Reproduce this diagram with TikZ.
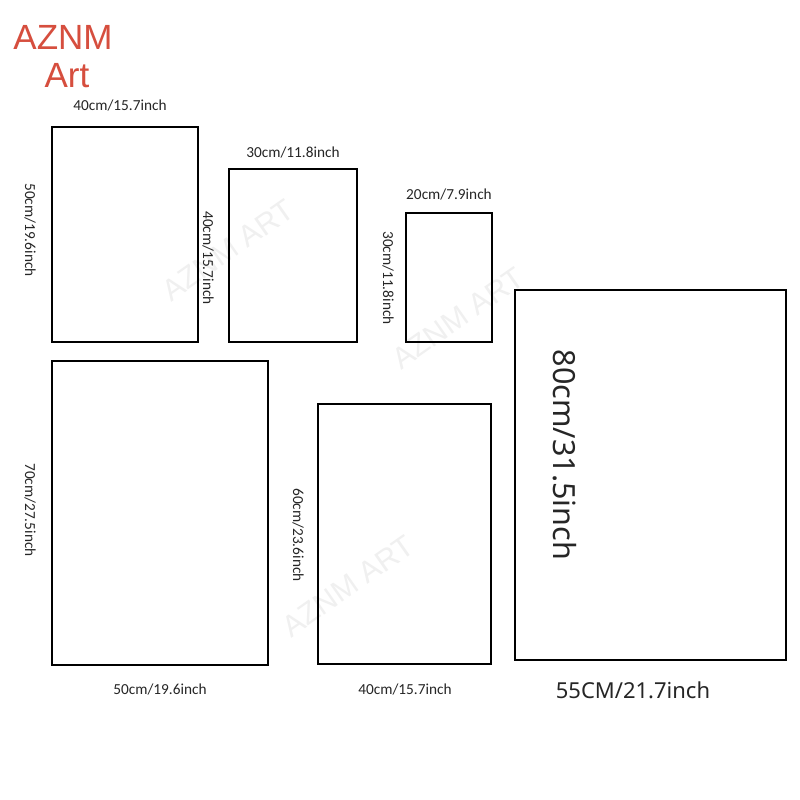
\documentclass[tikz,border=0pt]{standalone}
\usepackage{fontspec}
\setmainfont{Carlito}
\newfontfamily\titlefont{Liberation Sans}
\newfontfamily\bigfont{Noto Sans}
\begin{document}
\begin{tikzpicture}[x=1pt,y=-1pt,
  frame/.style={draw=black,line width=2.6pt},
  lab/.style={font=\fontsize{15.3}{17}\selectfont,inner sep=0pt,text=black!85},
  vlab/.style={lab,rotate=-90},
  wm/.style={font=\fontsize{30}{32}\selectfont\titlefont,text=black!6,rotate=35,inner sep=0pt},
  title/.style={font=\fontsize{35}{38}\selectfont\titlefont,text={rgb,255:red,214;green,78;blue,62},inner sep=0pt}]
\useasboundingbox[fill=white] (0,0) rectangle (800,800);
% watermarks
\node[wm] (w1) at (228,250) {AZNM ART};
\node[wm] (w2) at (458,318) {AZNM ART};
\node[wm] (w3) at (348,586) {AZNM ART};
% title
\node[title] (t1) at (63,37) {AZNM};
\node[title] (t2) at (67,76) {Art};
% frames
\draw[frame] (52,127) rectangle (198,342);
\draw[frame] (229,169) rectangle (357,342);
\draw[frame] (406,213) rectangle (492,342);
\draw[frame] (515,290) rectangle (786,660);
\draw[frame] (52,361) rectangle (268,665);
\draw[frame] (318,404) rectangle (491,664);
% labels
\node[lab] (l1) at (120,106) {40cm/15.7inch};
\node[vlab] (l2) at (30,230) {50cm/19.6inch};
\node[lab] (l3) at (293,153) {30cm/11.8inch};
\node[vlab] (l4) at (208,258) {40cm/15.7inch};
\node[lab] (l5) at (449,195) {20cm/7.9inch};
\node[vlab] (l6) at (388,278) {30cm/11.8inch};
\node[vlab,font=\fontsize{30.5}{32}\selectfont\bigfont] (l7) at (565,455) {80cm/31.5inch};
\node[lab,font=\fontsize{22}{24}\selectfont\bigfont] (l8) at (633,690) {55CM/21.7inch};
\node[vlab] (l9) at (30,510) {70cm/27.5inch};
\node[lab] (l10) at (160,690) {50cm/19.6inch};
\node[vlab] (l11) at (298,535) {60cm/23.6inch};
\node[lab] (l12) at (405,690) {40cm/15.7inch};
\end{tikzpicture}
\end{document}
